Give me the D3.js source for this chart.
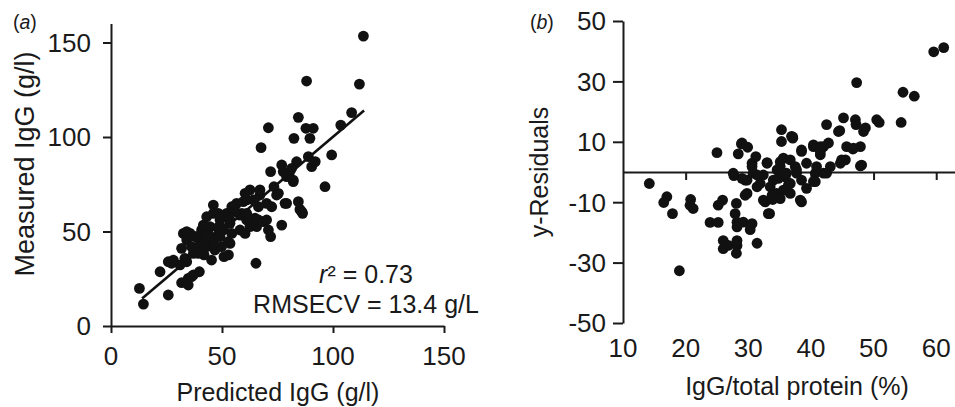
<!DOCTYPE html>
<html>
<head>
<meta charset="utf-8">
<script src="https://cdn.jsdelivr.net/npm/d3@7"></script>
<style>
  body { margin: 0; background: #fff; }
  svg { display: block; font-family: "Liberation Sans", Arial, sans-serif; }
  .axis path, .axis line { stroke: #1a1a1a; stroke-width: 2; }
  .lbl { fill: #1a1a1a; font-size: 25px; }
  .tick-lbl { fill: #1a1a1a; font-size: 26px; }
</style>
</head>
<body>
<script>
// panel (a): predicted vs measured IgG (g/l)
var panelA = [
  [113.7,153.4],[88.1,129.6],[111.9,128],[108.4,112.9],[103.5,106.3],[84.4,110.4],[87.8,104.6],[91.1,104.6],
  [70.9,104.9],[82.4,99.3],[89.6,99.3],[67.6,94.4],[99.4,90.5],[88.9,89.6],[96.4,73.7],[76.9,85.2],
  [83.6,86.9],[71.9,81.7],[77.6,81.7],[80.3,80.8],[82.1,76.4],[90.4,84.3],[73.4,73.7],[75.4,70.2],
  [78.4,64.9],[84.4,65.8],[85.1,61.7],[86.3,59.6],[72.4,63.1],[76.9,53.4],[71.9,47.3],[70.9,50.8],
  [68.6,55.2],[65.6,52.6],[67.1,69.3],[64.1,66.7],[61.1,66.7],[60.4,70.2],[56.6,64.9],[55.1,62.3],
  [52.1,59.6],[62.3,57.0],[64.9,57.0],[62.6,52.6],[65.3,33.2],[58.1,58.7],[49.1,56.1],[46.1,64.0],
  [48.3,59.6],[43.1,57.8],[44.6,52.6],[50.6,50.8],[53.6,54.3],[54.4,49.0],[47.6,47.3],[40.8,50.8],
  [43.1,49.0],[46.1,45.5],[53.6,43.7],[49.8,42.0],[46.8,40.2],[50.9,36.7],[52.9,37.6],[41.9,37.6],
  [45.3,34.9],[39.3,38.4],[40.1,45.5],[38.6,47.3],[35.6,49.0],[32.6,49.0],[34.1,45.5],[36.3,42.0],
  [31.8,41.1],[37.1,38.4],[34.1,34.0],[31.1,32.3],[27.3,33.2],[25.8,34.0],[39.8,28.7],[37.1,27.0],
  [34.8,25.2],[31.8,22.9],[34.8,21.7],[22.1,28.7],[25.8,16.4],[12.8,19.9],[14.6,11.6],[40.1,42.0],
  [43.1,42.0],[58.1,50.8],[61.1,56.1],[60.4,49.0],[82.1,77.2],[74.6,69.3],[79.1,64.9],[85.9,60.5],
  [70.1,56.1],[66.4,56.1],[67.1,72.0],[59.6,65.8],[58.9,59.6],[54.4,63.1],[53.6,56.1],[46.1,59.6],
  [41.6,53.4],[50.6,51.7],[49.1,47.3],[52.8,44.6],[46.1,43.8],[42.3,45.5],[37.8,47.3],[39.3,42.0],
  [34.1,49.9],[33.3,35.8],[28.1,34.9],[36.3,26.1],[62.6,72.0],[70.1,64.9],[61.1,59.6],[66.4,63.1],
  [81.4,83.4],[79.1,79.0],[92.0,87.0],[56.0,60.5],[48.0,52.0],[44.0,48.5]
];
var fitX = [14, 114];
var fitY = [14.5, 114];
var aTicks = [0, 50, 100, 150];

// panel (b): IgG/total protein (%) vs y-residuals
var panelB = [
  [14.2,-3.8],[17.0,-8.2],[16.5,-10.1],[17.9,-13.8],[20.8,-9.1],[20.7,-11],[21.2,-12.1],[19.0,-32.7],
  [25.0,6.4],[23.9,-16.7],[25.2,-16.7],[25.9,-9.3],[25.2,-11],[26.0,-22.7],[26.0,-25.4],[26.8,-24.3],
  [28.2,-22.7],[28.2,-24.3],[28.1,-26.9],[28.1,-10.4],[27.9,-13.8],[28.2,-16.6],[29.2,-16.6],[28.2,-18.2],
  [30.3,-19.1],[30.6,-17.1],[31.4,-23.6],[28.4,6.0],[28.9,9.3],[29.9,8.2],[27.7,-1.2],[29.5,-2.7],
  [29.8,-7.1],[30.6,2.9],[31.2,5.1],[31.4,-4.9],[30.8,-0.4],[32.4,-1.0],[32.7,-9.9],[33.4,-13.8],
  [33.9,-9.1],[33.0,3.1],[34.0,-2.7],[34.5,-7.1],[35.1,1.8],[35.3,14.0],[35.3,10.1],[37.1,11.6],
  [35.6,4.6],[35.9,-1.6],[36.4,-4.3],[36.7,-7.1],[37.5,1.8],[37.7,-0.4],[38.5,6.8],[38.5,-2.7],
  [39.3,-5.4],[38.5,-9.9],[39.3,2.9],[40.4,8.4],[40.7,-0.4],[40.7,-3.2],[41.5,5.7],[42.0,8.4],
  [42.5,15.7],[42.8,9.6],[43.1,1.8],[42.0,-0.4],[44.4,13.4],[45.2,17.9],[44.7,2.9],[45.5,4.0],
  [45.7,8.4],[47.1,17.3],[47.2,15.7],[47.3,29.6],[46.8,7.9],[47.9,8.4],[48.1,2.3],[48.7,14.6],
  [48.4,13.4],[50.5,17.3],[50.9,16.4],[54.4,16.4],[54.7,26.4],[56.5,25.1],[59.6,39.8],[61.2,41.2],
  [36.9,11.8],[29.0,9.6],[33.0,2.9],[35.1,3.4],[36.7,4.0],[41.5,6.8],[40.9,1.8],[37.7,0.7],
  [36.1,-0.4],[34.6,0.7],[34.8,-2.1],[31.4,-1.0],[30.6,1.8],[29.8,-2.7],[31.9,-3.8],[33.5,-4.9],
  [35.6,-6.0],[36.7,-3.8],[40.4,-3.2],[42.5,-0.4],[29.5,-7.7],[32.4,-9.3],[33.8,-7.7],[35.1,-8.8],
  [38.3,-9.3],[33.2,-13.8],[27.6,-0.4],[29.0,-2.1],[46.7,7.6],[44.9,4.0],[47.9,2.0],[41.5,8.4],
  [40.4,9.0],[38.5,7.3],[37.1,11.2],[44.6,13.7]
];
var bXTicks = [10, 20, 30, 40, 50, 60];
var bYTicks = [-50, -30, -10, 10, 30, 50];

var svg = d3.select('body').append('svg')
  .attr('width', 955)
  .attr('height', 407);

var ink = '#1a1a1a';

// ---- panel a ----
var ax = d3.scaleLinear().domain([0, 150]).range([111, 444]);
var ay = d3.scaleLinear().domain([0, 150]).range([326, 42.5]);
var ayAxis = d3.scaleLinear().domain([0, 160]).range([326, ay(160)]);

svg.append('g')
  .attr('class', 'axis')
  .attr('transform', 'translate(' + ax(0) + ',0)')
  .call(d3.axisLeft(ayAxis).tickValues(aTicks).tickSize(8).tickSizeOuter(0).tickFormat(''));

svg.append('g')
  .attr('class', 'axis')
  .attr('transform', 'translate(0,' + ay(0) + ')')
  .call(d3.axisBottom(ax).tickValues(aTicks).tickSize(7).tickSizeOuter(0).tickFormat(''));

svg.append('g').selectAll('text')
  .data(aTicks)
  .enter().append('text')
  .attr('class', 'tick-lbl')
  .attr('x', 91)
  .attr('y', function (d) { return ay(d); })
  .attr('dy', '0.36em')
  .attr('text-anchor', 'end')
  .text(function (d) { return d; });

svg.append('g').selectAll('text')
  .data(aTicks)
  .enter().append('text')
  .attr('class', 'tick-lbl')
  .attr('x', function (d) { return ax(d); })
  .attr('y', 365)
  .attr('text-anchor', 'middle')
  .text(function (d) { return d; });

svg.append('g').selectAll('circle')
  .data(panelA)
  .enter().append('circle')
  .attr('cx', function (d) { return ax(d[0]); })
  .attr('cy', function (d) { return ay(d[1]); })
  .attr('r', 5.4)
  .attr('fill', '#111');

svg.append('line')
  .attr('x1', ax(fitX[0])).attr('y1', ay(fitY[0]))
  .attr('x2', ax(fitX[1])).attr('y2', ay(fitY[1]))
  .attr('stroke', '#111')
  .attr('stroke-width', 2.6);

svg.append('text')
  .attr('class', 'lbl')
  .attr('font-size', 27)
  .style('font-size', '27px')
  .attr('transform', 'translate(34,164) rotate(-90)')
  .attr('text-anchor', 'middle')
  .text('Measured IgG (g/l)');

svg.append('text')
  .attr('class', 'lbl')
  .attr('x', 278)
  .attr('y', 401)
  .attr('text-anchor', 'middle')
  .text('Predicted IgG (g/l)');

var r2 = svg.append('text')
  .attr('class', 'lbl')
  .attr('x', 366)
  .attr('y', 283)
  .attr('text-anchor', 'middle');
r2.append('tspan').attr('font-style', 'italic').text('r');
r2.append('tspan').text('\u00b2 = 0.73');

svg.append('text')
  .attr('class', 'lbl')
  .attr('x', 366)
  .attr('y', 313)
  .attr('text-anchor', 'middle')
  .text('RMSECV = 13.4 g/L');

var ta = svg.append('text')
  .attr('x', 13).attr('y', 29)
  .attr('font-size', 19.5).attr('fill', ink);
ta.append('tspan').text('(');
ta.append('tspan').attr('font-style', 'italic').text('a');
ta.append('tspan').text(')');

// ---- panel b ----
var bx = d3.scaleLinear().domain([10, 63]).range([623, 955]);
var by = d3.scaleLinear().domain([-50, 50]).range([323, 21]);

svg.append('g')
  .attr('class', 'axis')
  .attr('transform', 'translate(' + bx(10) + ',0)')
  .call(d3.axisLeft(by).tickValues(bYTicks).tickSize(10).tickSizeOuter(0).tickFormat(''));

svg.append('g')
  .attr('class', 'axis')
  .attr('transform', 'translate(0,' + by(0) + ')')
  .call(d3.axisBottom(bx).tickValues(bXTicks.slice(1)).tickSize(8).tickSizeOuter(0).tickFormat(''));

svg.append('g').selectAll('text')
  .data(bYTicks)
  .enter().append('text')
  .attr('class', 'tick-lbl')
  .attr('x', 606)
  .attr('y', function (d) { return by(d); })
  .attr('dy', '0.36em')
  .attr('text-anchor', 'end')
  .text(function (d) { return d; });

svg.append('g').selectAll('text')
  .data(bXTicks)
  .enter().append('text')
  .attr('class', 'tick-lbl')
  .attr('x', function (d) { return bx(d); })
  .attr('y', 357)
  .attr('text-anchor', 'middle')
  .text(function (d) { return d; });

svg.append('g').selectAll('circle')
  .data(panelB)
  .enter().append('circle')
  .attr('cx', function (d) { return bx(d[0]); })
  .attr('cy', function (d) { return by(d[1]); })
  .attr('r', 5.4)
  .attr('fill', '#111');

svg.append('text')
  .attr('class', 'lbl')
  .attr('transform', 'translate(548,172) rotate(-90)')
  .attr('text-anchor', 'middle')
  .text('y-Residuals');

svg.append('text')
  .attr('class', 'lbl')
  .attr('x', 797)
  .attr('y', 395)
  .attr('text-anchor', 'middle')
  .text('IgG/total protein (%)');

var tb = svg.append('text')
  .attr('x', 530).attr('y', 29)
  .attr('font-size', 19.5).attr('fill', ink);
tb.append('tspan').text('(');
tb.append('tspan').attr('font-style', 'italic').text('b');
tb.append('tspan').text(')');
</script>
</body>
</html>
